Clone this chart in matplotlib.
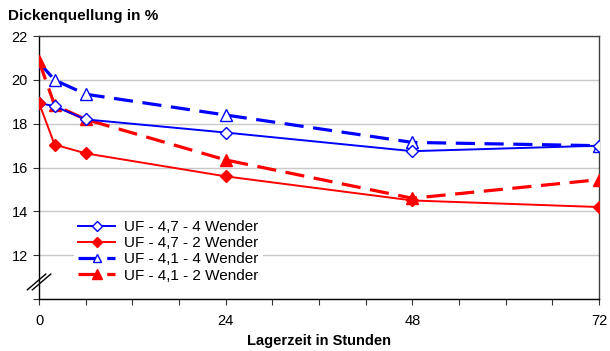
import matplotlib
matplotlib.use("Agg")
import matplotlib.pyplot as plt
from matplotlib.ticker import MultipleLocator

plt.rcParams['font.family'] = ['Liberation Sans', 'DejaVu Sans']

hours = [0, 2, 6, 24, 48, 72]
uf47_4w = [18.95, 18.8, 18.2, 17.6, 16.75, 17.0]
uf47_2w = [18.95, 17.05, 16.65, 15.6, 14.5, 14.2]
uf41_4w = [20.8, 20.0, 19.35, 18.4, 17.15, 17.0]
uf41_2w = [20.85, 18.85, 18.2, 16.35, 14.6, 15.45]

labels = ['UF - 4,7 - 4 Wender', 'UF - 4,7 - 2 Wender',
          'UF - 4,1 - 4 Wender', 'UF - 4,1 - 2 Wender']

fig = plt.figure(figsize=(6.10, 3.51), dpi=100)
ax = fig.add_axes([0.064, 0.148, 0.918, 0.749])

blue = '#0000ff'
red = '#ff0000'
dash = (0, (6, 3))

ax.plot(hours, uf47_4w, color=blue, lw=1.4, marker='D', ms=6,
        mfc='white', mec=blue, mew=1.0, label=labels[0], zorder=4)
ax.plot(hours, uf47_2w, color=red, lw=1.4, marker='D', ms=6.5,
        mfc=red, mec=red, label=labels[1], zorder=4)
ax.plot(hours, uf41_4w, color=blue, lw=2.3, ls=dash, marker='^', ms=8,
        mfc='white', mec=blue, mew=1.0, label=labels[2], zorder=3)
ax.plot(hours, uf41_2w, color=red, lw=2.3, ls=dash, marker='^', ms=8.5,
        mfc=red, mec=red, label=labels[3], zorder=3)

ax.set_xlim(0, 72)
ax.set_ylim(10, 22)
ax.xaxis.set_major_locator(MultipleLocator(24))
ax.xaxis.set_minor_locator(MultipleLocator(6))
ax.set_yticks([10, 12, 14, 16, 18, 20, 22])
ax.set_yticklabels(['', '12', '14', '16', '18', '20', '22'])
ax.tick_params(axis='both', labelsize=10.5, length=4, width=0.8, color='#333333')
ax.tick_params(axis='x', which='minor', length=4, width=0.8, color='#333333')
ax.tick_params(axis='x', pad=7)
ax.tick_params(axis='y', pad=4)

ax.grid(axis='y', color='#c8c8c8', lw=1.0)
ax.set_axisbelow(True)
for side in ['left', 'bottom']:
    ax.spines[side].set_color('black')
    ax.spines[side].set_linewidth(1.0)
for side in ['top', 'right']:
    ax.spines[side].set_color('#404040')
    ax.spines[side].set_linewidth(1.0)

# axis break marks
for off in (0.0, 0.009):
    ax.plot([-0.021 + off, 0.012 + off], [0.035, 0.095], color='black',
            lw=1.0, transform=ax.transAxes, clip_on=False, zorder=5)

leg = ax.legend(loc='lower left', bbox_to_anchor=(0.062, 0.045), frameon=True,
                fontsize=11, handlelength=2.4, handletextpad=0.6,
                labelspacing=0.14, borderpad=0.3, borderaxespad=0,
                markerscale=0.8)
leg.get_frame().set_facecolor('white')
leg.get_frame().set_edgecolor('none')
leg.get_frame().set_alpha(1)

fig.text(0.013, 0.955, 'Dickenquellung in %', fontsize=11, fontweight='bold',
         va='center', ha='left')
ax.set_xlabel('Lagerzeit in Stunden', fontsize=10.5, fontweight='bold', labelpad=4)

fig.savefig('out.png', dpi=100)
